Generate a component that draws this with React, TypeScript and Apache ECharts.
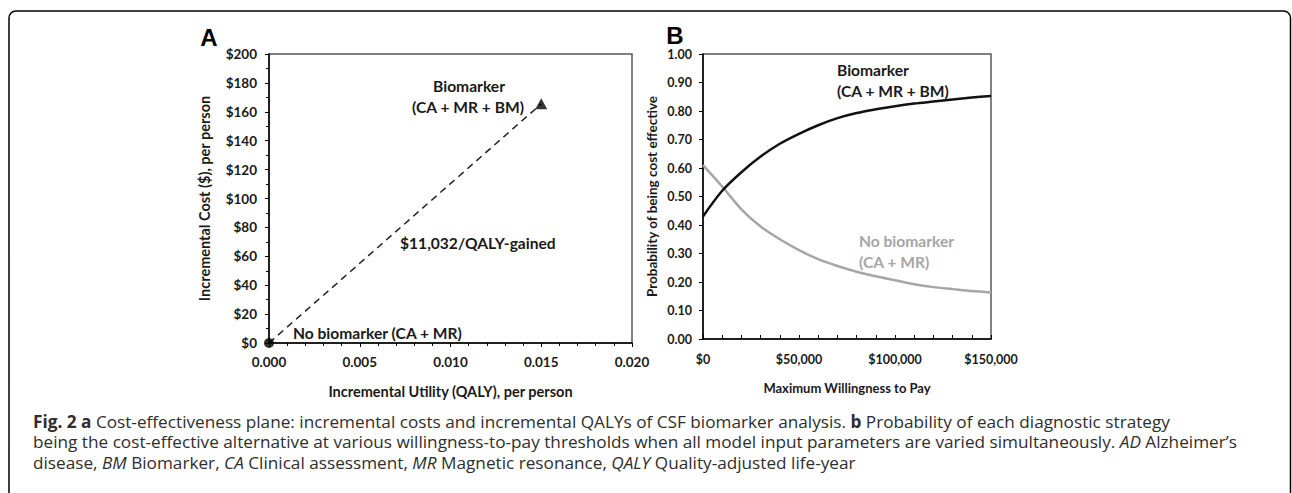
import React, { useEffect, useRef } from "react";
import * as echarts from "echarts";

// ---- Panel A: cost-effectiveness plane ----
const aXTicks = [0, 0.005, 0.01, 0.015, 0.02];
const aYTicks = [0, 20, 40, 60, 80, 100, 120, 140, 160, 180, 200];
const noBiomarkerPoint = [0, 0]; // [QALY, cost]
const biomarkerPoint = [0.015, 165.5];
const icerText = "$11,032/QALY-gained";

// ---- Panel B: cost-effectiveness acceptability curves ----
const wtp = [0, 10000, 20000, 30000, 40000, 50000, 60000, 70000, 80000, 90000, 100000, 110000, 120000, 130000, 140000, 150000];
const probBiomarker = [0.43, 0.52, 0.585, 0.64, 0.685, 0.72, 0.75, 0.775, 0.793, 0.806, 0.817, 0.826, 0.833, 0.84, 0.847, 0.853];
const probNoBiomarker = [0.61, 0.535, 0.455, 0.395, 0.35, 0.312, 0.28, 0.256, 0.236, 0.22, 0.206, 0.192, 0.182, 0.175, 0.168, 0.163];

const CHART_FONT = "Lato, 'Liberation Sans', sans-serif";
const CAP_FONT = "'Open Sans', 'Noto Sans', sans-serif";
const GREY = "#a6a6a6";
const DARK = "#1a1a1a";
const CAP_SIZE = 17.2;
const CAP_COLOR = "#2e2e2e";

export default function App() {
  const ref = useRef<HTMLDivElement>(null);
  useEffect(() => {
    document.body.style.margin = "0";
    const chart = echarts.init(ref.current!, null, { renderer: "svg" });
    const axisLine = { show: true, lineStyle: { color: "#000", width: 1.5 } };
    const tickA = { color: DARK, fontFamily: CHART_FONT, fontWeight: "bold" as const, fontSize: 13.5 };
    const tickB = { color: DARK, fontFamily: CHART_FONT, fontWeight: "bold" as const, fontSize: 12.5 };
    const nameA = { color: DARK, fontFamily: CHART_FONT, fontWeight: "bold" as const, fontSize: 14.5 };
    const nameBx = { color: DARK, fontFamily: CHART_FONT, fontWeight: "bold" as const, fontSize: 13 };
    const nameBy = { color: DARK, fontFamily: CHART_FONT, fontWeight: "bold" as const, fontSize: 13.5 };
    const annot = { fontFamily: CHART_FONT, fontWeight: "bold" as const, fontSize: 15.6, verticalAlign: "middle" as const };
    const panelLetter = { fontFamily: "'Liberation Sans', Arial, sans-serif", fontWeight: "bold" as const, fontSize: 24, fill: "#000", align: "center" as const, verticalAlign: "middle" as const };

    const capBase = { fontFamily: CAP_FONT, fontSize: CAP_SIZE, fill: CAP_COLOR };
    const rich = {
      b: { fontFamily: CAP_FONT, fontSize: CAP_SIZE, fontWeight: "bold" as const, color: CAP_COLOR },
      i: { fontFamily: CAP_FONT, fontSize: CAP_SIZE, fontStyle: "italic" as const, color: CAP_COLOR },
      n: { fontFamily: CAP_FONT, fontSize: CAP_SIZE, color: CAP_COLOR },
    };

    const option: any = {
      animation: false,
      backgroundColor: "#fff",
      grid: [
        { left: 269, top: 54, width: 363, height: 289, show: true, borderColor: "#595959", borderWidth: 1.5, backgroundColor: "transparent" },
        { left: 703, top: 54, width: 288, height: 285, show: true, borderColor: "#595959", borderWidth: 1.5, backgroundColor: "transparent" },
      ],
      xAxis: [
        {
          type: "value", gridIndex: 0, min: aXTicks[0], max: aXTicks[aXTicks.length - 1], interval: aXTicks[1] - aXTicks[0],
          axisLine, splitLine: { show: false },
          axisTick: { show: true, length: 4, lineStyle: { color: "#000", width: 1 } },
          minorTick: { show: true, splitNumber: 5, length: 3, lineStyle: { color: "#000", width: 1 } },
          axisLabel: { ...tickA, margin: 12, formatter: (v: number) => v.toFixed(3) },
          name: "Incremental Utility (QALY), per person", nameLocation: "middle", nameGap: 41, nameTextStyle: nameA,
        },
        {
          type: "value", gridIndex: 1, min: wtp[0], max: wtp[wtp.length - 1], interval: 50000,
          axisLine, splitLine: { show: false },
          axisTick: { show: true, inside: true, length: 4, lineStyle: { color: "#000", width: 1 } },
          minorTick: { show: true, splitNumber: 5, length: 4, lineStyle: { color: "#000", width: 1 } },
          axisLabel: { ...tickB, margin: 14, formatter: (v: number) => "$" + v.toLocaleString("en-US") },
          name: "Maximum Willingness to Pay", nameLocation: "middle", nameGap: 42, nameTextStyle: nameBx,
        },
      ],
      yAxis: [
        {
          type: "value", gridIndex: 0, min: aYTicks[0], max: aYTicks[aYTicks.length - 1], interval: aYTicks[1] - aYTicks[0],
          axisLine, splitLine: { show: false },
          axisTick: { show: true, length: 4, lineStyle: { color: "#000", width: 1 } },
          minorTick: { show: true, splitNumber: 2, length: 3, lineStyle: { color: "#000", width: 1 } },
          axisLabel: { ...tickA, margin: 12, formatter: (v: number) => "$" + v },
          name: "Incremental Cost ($), per person", nameLocation: "middle", nameGap: 57, nameTextStyle: nameA,
        },
        {
          type: "value", gridIndex: 1, min: 0, max: 1, interval: 0.1,
          axisLine, splitLine: { show: false },
          axisTick: { show: true, length: 4, lineStyle: { color: "#000", width: 1 } },
          axisLabel: { ...tickB, margin: 11, formatter: (v: number) => v.toFixed(2) },
          name: "Probability of being cost effective", nameLocation: "middle", nameGap: 44, nameTextStyle: nameBy,
        },
      ],
      series: [
        {
          type: "line", xAxisIndex: 0, yAxisIndex: 0, symbol: "none",
          data: [noBiomarkerPoint, biomarkerPoint],
          lineStyle: { color: "#222", width: 1.5, type: [7, 5] }, z: 2,
        },
        {
          type: "scatter", xAxisIndex: 0, yAxisIndex: 0, symbol: "circle", symbolSize: 10,
          data: [noBiomarkerPoint], itemStyle: { color: "#000" }, z: 5,
        },
        {
          type: "scatter", xAxisIndex: 0, yAxisIndex: 0, symbol: "triangle", symbolSize: [12, 11],
          data: [biomarkerPoint], itemStyle: { color: "#000" }, z: 5,
        },
        {
          type: "line", xAxisIndex: 1, yAxisIndex: 1, symbol: "none", smooth: 0.3,
          data: wtp.map((w, i) => [w, probNoBiomarker[i]]),
          lineStyle: { color: GREY, width: 2.5 }, z: 3,
        },
        {
          type: "line", xAxisIndex: 1, yAxisIndex: 1, symbol: "none", smooth: 0.3,
          data: wtp.map((w, i) => [w, probBiomarker[i]]),
          lineStyle: { color: "#111", width: 2.5 }, z: 4,
        },
      ],
      graphic: [
        {
          type: "rect", shape: { x: 9, y: 11, width: 1281.5, height: 520, r: 7 },
          style: { fill: "none", stroke: "#000", lineWidth: 1.5 }, silent: true,
        },
        { type: "text", x: 209, y: 37, style: { ...panelLetter, text: "A" } },
        { type: "text", x: 675, y: 35.5, style: { ...panelLetter, text: "B" } },
        // Panel A annotations
        { type: "text", x: 469, y: 86, style: { ...annot, text: "Biomarker", fill: DARK, align: "center" } },
        { type: "text", x: 468, y: 107, style: { ...annot, text: "(CA + MR + BM)", fill: DARK, align: "center" } },
        { type: "text", x: 400, y: 243, style: { ...annot, text: icerText, fill: DARK, align: "left" } },
        { type: "text", x: 293, y: 333, style: { ...annot, text: "No biomarker (CA + MR)", fill: DARK, align: "left" } },
        // Panel B annotations
        { type: "text", x: 837, y: 70, style: { ...annot, text: "Biomarker", fill: DARK, align: "left" } },
        { type: "text", x: 837, y: 91, style: { ...annot, text: "(CA + MR + BM)", fill: DARK, align: "left" } },
        { type: "text", x: 859, y: 241, style: { ...annot, text: "No biomarker", fill: GREY, align: "left" } },
        { type: "text", x: 859, y: 262, style: { ...annot, text: "(CA + MR)", fill: GREY, align: "left" } },
        // Caption
        {
          type: "text", x: 33, y: 421,
          style: {
            ...capBase, verticalAlign: "middle",
            text: "{b|Fig. 2 a} {n|Cost-effectiveness plane: incremental costs and incremental QALYs of CSF biomarker analysis.} {b|b} {n|Probability of each diagnostic strategy}",
            rich,
          },
        },
        {
          type: "text", x: 33, y: 441.5,
          style: {
            ...capBase, verticalAlign: "middle",
            text: "{n|being the cost-effective alternative at various willingness-to-pay thresholds when all model input parameters are varied simultaneously.} {i|AD} {n|Alzheimer\u2019s}",
            rich,
          },
        },
        {
          type: "text", x: 33, y: 462,
          style: {
            ...capBase, verticalAlign: "middle",
            text: "{n|disease,} {i|BM} {n|Biomarker,} {i|CA} {n|Clinical assessment,} {i|MR} {n|Magnetic resonance,} {i|QALY} {n|Quality-adjusted life-year}",
            rich,
          },
        },
      ],
    };
    chart.setOption(option);
    return () => chart.dispose();
  }, []);
  return <div ref={ref} style={{ width: 1292, height: 493 }} />;
}
